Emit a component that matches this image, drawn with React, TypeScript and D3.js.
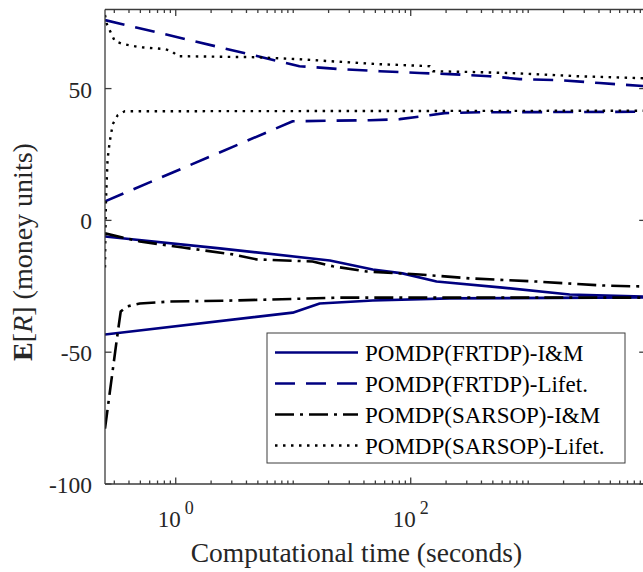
import React from 'react';
import * as d3 from 'd3';

// ---------- data ----------
const xDomain: [number, number] = [0.25, 10000];
const yDomain: [number, number] = [-100, 80];
const xMajorTicks = [1, 100, 10000];
const xLabelTicks = [1, 100];
const xTickExponents = ['0', '2'];
const yTicks = [50, 0, -50, -100];
const yTickLabels = ['50', '0', '-50', '-100'];

// POMDP(FRTDP)-I&M (two bounds)
const frtdpImUpper: [number, number][] = [
  [0.25, -6.1], [2.37, -10.6], [20.5, -15.2], [47.5, -18.6], [85, -20.1], [166, -23.2],
  [605, -25.5], [2250, -28.1], [10000, -28.9],
];
const frtdpImLower: [number, number][] = [
  [0.25, -43.3], [9.9, -35.0], [16.8, -31.5], [47.5, -30.4], [214, -29.6], [10000, -29.2],
];
// POMDP(FRTDP)-Lifet.
const frtdpLifeUpper: [number, number][] = [
  [0.25, 76.0], [11.3, 58.5], [24.9, 57.4], [54.5, 56.6], [119, 55.9], [214, 55.5],
  [469, 54.7], [847, 53.6], [1854, 53.2], [4061, 52.1], [10000, 50.9],
];
const frtdpLifeLower: [number, number][] = [
  [0.25, 7.2], [9.9, 37.6], [44.8, 38.0], [80.6, 38.4], [145, 39.9], [194, 40.7],
  [386, 41.0], [10000, 41.2],
];
// POMDP(SARSOP)-I&M
const sarsopImUpper: [number, number][] = [
  [0.25, -4.9], [0.494, -8.0], [1.15, -10.3], [3.06, -12.9], [4.9, -14.8], [14.6, -15.6],
  [21.7, -17.4], [42.3, -19.4], [119, -20.5], [317, -22.0], [1180, -23.2], [4290, -24.7],
  [10000, -25.1],
];
const sarsopImLower: [number, number][] = [
  [0.25, -79.0], [0.315, -45.2], [0.34, -34.6], [0.383, -32.7], [0.494, -31.5],
  [0.889, -30.8], [3.06, -30.4], [24.9, -29.3], [10000, -29.3],
];
// POMDP(SARSOP)-Lifet.
const sarsopLifeUpper: [number, number][] = [
  [0.25, 77.9], [0.259, 74.5], [0.303, 68.0], [0.354, 66.9], [0.494, 65.7], [0.806, 65.0],
  [0.925, 64.2], [1.04, 62.3], [4.89, 61.9], [10.7, 61.2], [20.5, 60.4], [51.3, 59.3],
  [145, 58.5], [154, 56.6], [408, 56.2], [799, 55.8], [2600, 54.7], [10000, 53.9],
];
const sarsopLifeLower: [number, number][] = [
  [0.25, -17.9], [0.252, -5.0], [0.255, 8.0], [0.263, 23.2], [0.274, 29.7], [0.291, 36.5],
  [0.321, 39.9], [0.368, 41.4], [10000, 41.6],
];

const legendLabels = [
  'POMDP(FRTDP)-I&M',
  'POMDP(FRTDP)-Lifet.',
  'POMDP(SARSOP)-I&M',
  'POMDP(SARSOP)-Lifet.',
];

// ---------- styles ----------
const NAVY = '#000080';
const styles = [
  { color: NAVY, dash: 'none', width: 2.6 },
  { color: NAVY, dash: '20 11', width: 2.6 },
  { color: '#000', dash: '19 6 3 6', width: 2.6 },
  { color: '#000', dash: '2.5 5.5', width: 2.4 },
];
const seriesGroups: [number, [number, number][]][] = [
  [0, frtdpImUpper], [0, frtdpImLower],
  [1, frtdpLifeUpper], [1, frtdpLifeLower],
  [2, sarsopImUpper], [2, sarsopImLower],
  [3, sarsopLifeUpper], [3, sarsopLifeLower],
];

const W = 643;
const H = 572;
const L = 105, R = 645.7, T = 9.5, B = 484;
const AXIS = '#3c3c3c';
const FONT = '"Liberation Serif", "Times New Roman", serif';

export default function App() {
  const x = d3.scaleLog().domain(xDomain).range([L, R]);
  const y = d3.scaleLinear().domain(yDomain).range([B, T]);
  const line = d3.line<[number, number]>().x(d => x(d[0])).y(d => y(d[1]));

  // minor ticks
  const minor: number[] = [];
  for (let e = -1; e <= 3; e++) {
    for (let m = 1; m <= 9; m++) {
      const v = m * Math.pow(10, e);
      if (v > xDomain[0] && v < xDomain[1] && !xMajorTicks.includes(v)) minor.push(v);
    }
  }

  return (
    <svg width={W} height={H} style={{ position: 'absolute', left: 0, top: 0, background: '#fff' }}
      fontFamily={FONT}>
      <defs>
        <clipPath id="plotclip">
          <rect x={L} y={T} width={R - L} height={B - T} />
        </clipPath>
      </defs>
      <rect x={0} y={0} width={W} height={H} fill="#fff" />

      {/* series */}
      <g clipPath="url(#plotclip)">
        {seriesGroups.map(([si, data], i) => (
          <path key={i} d={line(data) || ''} fill="none" stroke={styles[si].color}
            strokeWidth={styles[si].width} strokeDasharray={styles[si].dash}
            strokeLinejoin="round" />
        ))}
      </g>

      {/* axes box */}
      <g stroke={AXIS} strokeWidth={1.3} fill="none">
        <line x1={L} y1={B} x2={R} y2={B} />
        <line x1={L} y1={T} x2={R} y2={T} />
        <line x1={L} y1={T} x2={L} y2={B} />
        <line x1={R} y1={T} x2={R} y2={B} />
        {minor.map((v, i) => (
          <g key={'m' + i}>
            <line x1={x(v)} x2={x(v)} y1={B} y2={B - 3.5} />
            <line x1={x(v)} x2={x(v)} y1={T} y2={T + 3.5} />
          </g>
        ))}
        {xMajorTicks.map((v, i) => (
          <g key={'M' + i}>
            <line x1={x(v)} x2={x(v)} y1={B} y2={B - 6.5} />
            <line x1={x(v)} x2={x(v)} y1={T} y2={T + 6.5} />
          </g>
        ))}
        {yTicks.map((v, i) => (
          <g key={'y' + i}>
            <line x1={L} x2={L + 6.5} y1={y(v)} y2={y(v)} />
            <line x1={R} x2={R - 6.5} y1={y(v)} y2={y(v)} />
          </g>
        ))}
      </g>

      {/* y tick labels */}
      {yTicks.map((v, i) => (
        <text key={'yl' + i} x={92} y={y(v) + 9} textAnchor="end" fontSize={23.5} fill="#262626">
          {yTickLabels[i]}
        </text>
      ))}

      {/* x tick labels */}
      {xLabelTicks.map((v, i) => (
        <text key={'xl' + i} x={x(v)} y={527} textAnchor="middle" fontSize={23} fill="#262626">
          10<tspan dx={4} dy={-13} fontSize={18}>{xTickExponents[i]}</tspan>
        </text>
      ))}

      {/* axis labels */}
      <text x={356.5} y={562} textAnchor="middle" fontSize={27.5} fill="#262626">
        Computational time (seconds)
      </text>
      <text transform="translate(32,252) rotate(-90)" textAnchor="middle" fontSize={28} fill="#262626">
        <tspan fontWeight="bold">E</tspan>[<tspan fontStyle="italic">R</tspan>] (money units)
      </text>

      {/* legend */}
      <g>
        <rect x={267} y={333} width={358} height={130} fill="#fff" stroke={AXIS} strokeWidth={1} />
        {legendLabels.map((lab, i) => {
          const ry = 352.5 + i * 31;
          const s = styles[i];
          return (
            <g key={'lg' + i}>
              <line x1={275} x2={358} y1={ry} y2={ry} stroke={s.color} strokeWidth={s.width}
                strokeDasharray={s.dash} />
              <text x={365} y={ry + 8.5} fontSize={23} fill="#000">{lab}</text>
            </g>
          );
        })}
      </g>
    </svg>
  );
}
